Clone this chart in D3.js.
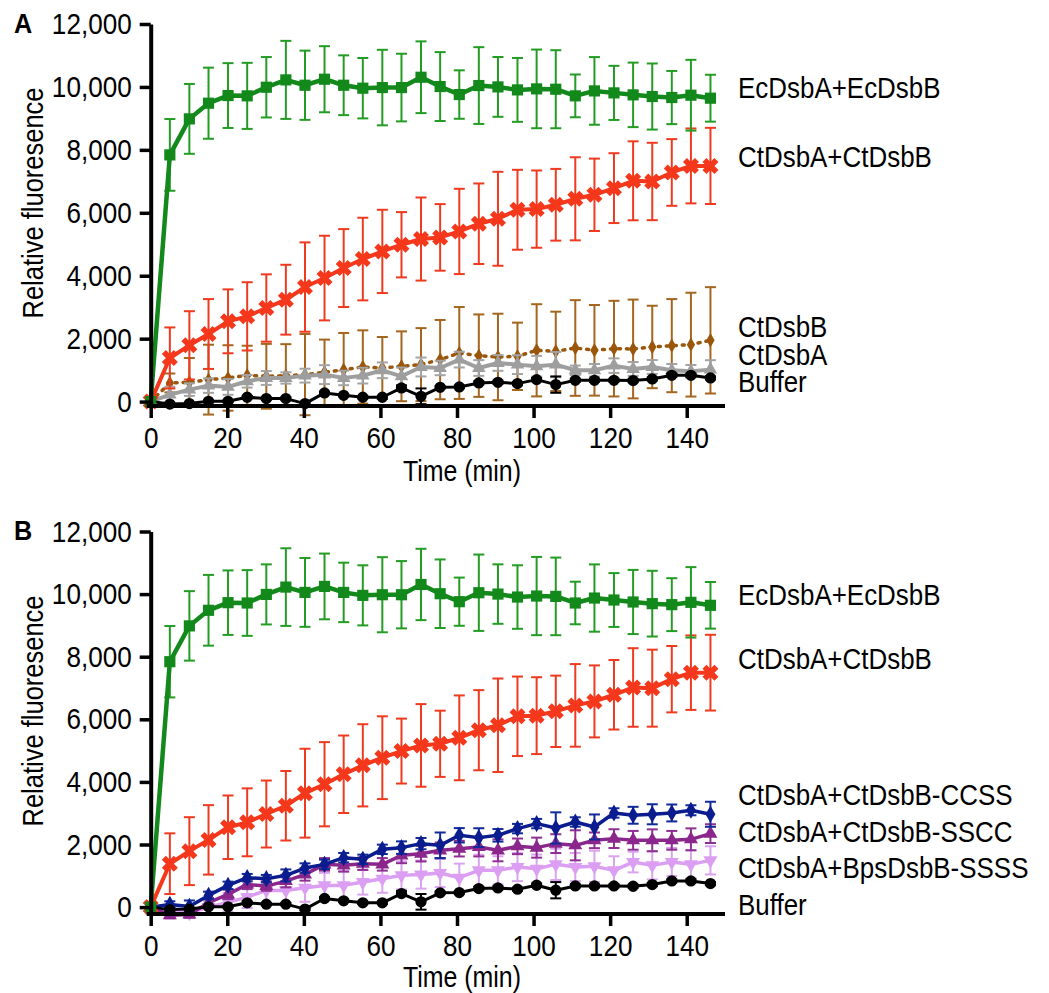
<!DOCTYPE html>
<html>
<head>
<meta charset="utf-8">
<script src="https://cdn.jsdelivr.net/npm/d3@7"></script>
<style>
  body { margin: 0; background: #fff; }
  text { font-family: "Liberation Sans", Arial, sans-serif; }
</style>
</head>
<body>
<script>
// sampling times (min)
const times = [0, 5, 10.1, 15.1, 20.2, 25.2, 30.2, 35.3, 40.3, 45.4, 50.4, 55.4, 60.5, 65.5, 70.6,
  75.6, 80.6, 85.7, 90.7, 95.8, 100.8, 105.8, 110.9, 115.9, 121, 126, 131, 136.1, 141.1, 146.2];

const ecMean = [0, 7840, 8985, 9483, 9726, 9716, 9990, 10224, 10054, 10245, 10054, 9960, 9980, 9980, 10308,
  10012, 9758, 10044, 10001, 9906, 9938, 9927, 9716, 9874, 9811, 9748, 9695, 9663, 9737, 9642];
const ecErr = [0, 1140, 1110, 1130, 1030, 1050, 960, 1240, 1100, 1050, 950, 960, 1200, 1075, 1140,
  1095, 770, 1220, 950, 1015, 1250, 1240, 680, 1075, 860, 1025, 1050, 845, 1125, 745];

const ctMean = [0, 1387, 1788, 2148, 2551, 2709, 2974, 3238, 3640, 3926, 4244, 4530, 4773, 4985, 5166,
  5218, 5408, 5652, 5810, 6096, 6117, 6255, 6445, 6572, 6784, 7017, 6995, 7282, 7490, 7490];
const ctErr = [0, 970, 1085, 1110, 1015, 1085, 1070, 1110, 1420, 1345, 1238, 1313, 1323, 1037, 1320,
  1058, 1355, 1280, 1493, 1270, 1228, 1140, 1320, 1150, 1110, 1255, 1230, 1060, 1190, 1210];

const dsbBMean = [0, 593, 614, 698, 751, 836, 804, 825, 857, 931, 1016, 1100, 1068, 1122, 1175,
  1334, 1545, 1460, 1418, 1439, 1630, 1598, 1704, 1630, 1683, 1672, 1736, 1778, 1810, 1947];
const dsbBErr = [0, 300, 770, 1110, 1040, 940, 1030, 1000, 1290, 1040, 1165, 1165, 985, 1110, 1160,
  1260, 1460, 1310, 1375, 1070, 1465, 1260, 1520, 1440, 1520, 1570, 1310, 1480, 1650, 1690];

const dsbAMean = [0, 222, 381, 508, 466, 646, 751, 751, 825, 857, 751, 825, 995, 804, 1100,
  1068, 1334, 1068, 1228, 1175, 1122, 1175, 995, 995, 1143, 1037, 1100, 995, 963, 1016];
const dsbAErr = [0, 250, 200, 230, 250, 200, 220, 180, 220, 300, 230, 250, 250, 280, 300,
  230, 250, 250, 250, 300, 330, 400, 150, 200, 230, 220, 220, 200, 200, 300];

const bufMean = [0, -80, -63, 10, 10, 138, 95, 95, -63, 275, 201, 138, 138, 434, 169,
  455, 466, 593, 614, 572, 698, 540, 677, 677, 677, 667, 720, 836, 836, 751];
const bufErr = [0, 30, 30, 30, 30, 40, 40, 40, 40, 40, 40, 40, 40, 80, 250,
  40, 40, 50, 50, 50, 50, 260, 50, 50, 50, 50, 50, 50, 50, 50];

const ccssMean = [0, 86, 22, 374, 694, 940, 908, 1014, 1248, 1366, 1580, 1526, 1846, 1900, 2028,
  1974, 2294, 2220, 2294, 2508, 2668, 2528, 2720, 2560, 3008, 2934, 2966, 3008, 3094, 2966];
const ccssErr = [0, 100, 190, 120, 120, 120, 120, 190, 150, 150, 150, 150, 150, 200, 180,
  410, 230, 300, 200, 150, 150, 500, 150, 400, 150, 270, 320, 270, 160, 400];

const ssccMean = [0, -256, -234, 140, 406, 726, 672, 832, 1046, 1366, 1334, 1388, 1366, 1654, 1708,
  1814, 1868, 1920, 1814, 1942, 1900, 2028, 1974, 2134, 2188, 2134, 2134, 2134, 2166, 2348];
const ssccErr = [0, 100, 100, 150, 150, 150, 150, 200, 200, 200, 200, 200, 200, 250, 250,
  250, 250, 300, 350, 250, 320, 300, 480, 250, 300, 300, 350, 300, 350, 300];

const ssssMean = [0, -106, -190, 0, 150, 320, 534, 534, 620, 694, 694, 800, 908, 1014, 1040,
  1090, 940, 1174, 1174, 1280, 1228, 1366, 1280, 1302, 1174, 1440, 1334, 1440, 1366, 1494];
const ssssErr = [0, 150, 150, 200, 300, 350, 400, 400, 450, 400, 450, 400, 450, 450, 450,
  450, 450, 500, 450, 450, 450, 500, 450, 500, 450, 330, 450, 450, 450, 450];

const yTicks = [0, 2000, 4000, 6000, 8000, 10000, 12000];
const xTicks = [0, 20, 40, 60, 80, 100, 120, 140];

const W = 1049, H = 993;
const svg = d3.select("body").append("svg")
    .attr("width", W)
    .attr("height", H);

// series styles
const styles = {
  ec:   {name: "EcDsbA+EcDsbB",        mean: ecMean,   err: ecErr,   color: "#12891a", errColor: "#239c23", lw: 4.5, shape: d3.symbolSquare,   size: 125},
  ct:   {name: "CtDsbA+CtDsbB",        mean: ctMean,   err: ctErr,   color: "#f5371b", errColor: "#ef3a1f", lw: 4,   shape: d3.symbolCross,    size: 160, rot: 45},
  dsbB: {name: "CtDsbB",               mean: dsbBMean, err: dsbBErr, color: "#9a570c", errColor: "#a4661e", lw: 3.5, shape: d3.symbolDiamond,  size: 60, dash: "2,6"},
  dsbA: {name: "CtDsbA",               mean: dsbAMean, err: dsbAErr, color: "#9e9e9e", errColor: "#a3a3a3", lw: 4,   shape: d3.symbolTriangle, size: 80},
  buf:  {name: "Buffer",               mean: bufMean,  err: bufErr,  color: "#000000", errColor: "#000000", lw: 3,   shape: d3.symbolCircle,   size: 100},
  ccss: {name: "CtDsbA+CtDsbB-CCSS",   mean: ccssMean, err: ccssErr, color: "#0a1c8e", errColor: "#102a9a", lw: 3.5, shape: d3.symbolDiamond,  size: 85},
  sscc: {name: "CtDsbA+CtDsbB-SSCC",   mean: ssccMean, err: ssccErr, color: "#8a268c", errColor: "#8f2f92", lw: 3.5, shape: d3.symbolTriangle, size: 85},
  ssss: {name: "CtDsbA+BpsDsbB-SSSS",  mean: ssssMean, err: ssssErr, color: "#dc9ef2", errColor: "#d9a3ef", lw: 3.5, shape: d3.symbolTriangle, size: 85, rot: 180}
};

const panels = [
  {letter: "A", letterY: 33, top: 24, axisY: 406, yMin: -140, titleY: 203, timeY: 481,
   draw: ["dsbB", "dsbA", "buf", "ct", "ec"],
   labels: [["ec", 98], ["ct", 167], ["dsbB", 337], ["dsbA", 365], ["buf", 392]]},
  {letter: "B", letterY: 540, top: 531.5, axisY: 914, yMin: -220, titleY: 711, timeY: 987,
   draw: ["ssss", "sscc", "ccss", "buf", "ct", "ec"],
   labels: [["ec", 605], ["ct", 669], ["ccss", 805], ["sscc", 842], ["ssss", 878], ["buf", 915]]}
];

// condensed look: squeeze text horizontally (no narrow font available)
function narrow(sel, k) {
  sel.each(function() {
    const w = this.getComputedTextLength();
    d3.select(this).attr("textLength", w * k).attr("lengthAdjust", "spacingAndGlyphs");
  });
}

const x = d3.scaleLinear().domain([0, 150]).range([150.7, 725]);

panels.forEach(p => {
  const g = svg.append("g");
  const y = d3.scaleLinear().domain([p.yMin, 12000]).range([p.axisY, p.top]);

  // series
  p.draw.forEach(key => {
    const s = styles[key];
    const pts = times.map((t, i) => ({t: t, v: s.mean[i], e: s.err[i]}));
    const sg = g.append("g");

    // error bars
    const eb = sg.selectAll("g.eb")
      .data(pts.filter(d => d.e > 0))
      .join("g")
        .attr("class", "eb")
        .attr("stroke", s.errColor)
        .attr("stroke-width", 2);
    eb.append("line")
        .attr("x1", d => x(d.t)).attr("x2", d => x(d.t))
        .attr("y1", d => y(d.v - d.e)).attr("y2", d => y(d.v + d.e));
    eb.append("line")
        .attr("x1", d => x(d.t) - 5.5).attr("x2", d => x(d.t) + 5.5)
        .attr("y1", d => y(d.v + d.e)).attr("y2", d => y(d.v + d.e));
    eb.append("line")
        .attr("x1", d => x(d.t) - 5.5).attr("x2", d => x(d.t) + 5.5)
        .attr("y1", d => y(d.v - d.e)).attr("y2", d => y(d.v - d.e));

    // line
    sg.append("path")
        .datum(pts)
        .attr("fill", "none")
        .attr("stroke", s.color)
        .attr("stroke-width", s.lw)
        .attr("stroke-linejoin", "round")
        .attr("stroke-linecap", "round")
        .attr("stroke-dasharray", s.dash || null)
        .attr("d", d3.line().x(d => x(d.t)).y(d => y(d.v)));

    // symbols
    sg.selectAll("path.sym")
      .data(pts)
      .join("path")
        .attr("class", "sym")
        .attr("fill", s.color)
        .attr("transform", d => `translate(${x(d.t)},${y(d.v)}) rotate(${s.rot || 0})`)
        .attr("d", d3.symbol().type(s.shape).size(s.size));
  });

  // axes
  const yAxis = g.append("g")
      .attr("transform", `translate(${x(0)},0)`)
      .call(d3.axisLeft(y).tickValues(yTicks).tickFormat(d3.format(",")).tickSize(11).tickSizeOuter(0).tickPadding(8));
  yAxis.select(".domain").attr("stroke-width", 4);
  yAxis.selectAll(".tick line").attr("stroke-width", 3.5);
  yAxis.selectAll(".tick text").attr("font-size", 30).attr("fill", "#000").call(narrow, 0.87);

  const xAxis = g.append("g")
      .attr("transform", `translate(0,${p.axisY})`)
      .call(d3.axisBottom(x).tickValues(xTicks).tickSize(12).tickSizeOuter(0).tickPadding(9));
  xAxis.select(".domain").remove();
  xAxis.append("line")
      .attr("x1", x(0) - 4).attr("x2", x(150))
      .attr("stroke", "#000").attr("stroke-width", 4);
  xAxis.selectAll(".tick line").attr("stroke-width", 3.5);
  xAxis.selectAll(".tick text").attr("font-size", 30).attr("fill", "#000").call(narrow, 0.87);

  // titles
  g.append("text")
      .attr("transform", `translate(43,${p.titleY}) rotate(-90)`)
      .attr("text-anchor", "middle")
      .attr("font-size", 30)
      .text("Relative fluoresence")
      .call(narrow, 0.85);
  g.append("text")
      .attr("x", 462).attr("y", p.timeY)
      .attr("text-anchor", "middle")
      .attr("font-size", 30)
      .text("Time (min)")
      .call(narrow, 0.83);
  g.append("text")
      .attr("x", 14).attr("y", p.letterY)
      .attr("font-size", 28)
      .attr("font-weight", "bold")
      .text(p.letter)
      .call(narrow, 0.9);

  // series labels (squeezed with a transform so the box stays inside the page)
  g.selectAll("text.lab")
    .data(p.labels)
    .join("text")
      .attr("class", "lab")
      .attr("transform", d => `translate(738,${d[1]}) scale(0.865,1)`)
      .attr("font-size", 30)
      .text(d => styles[d[0]].name);
});
</script>
</body>
</html>
